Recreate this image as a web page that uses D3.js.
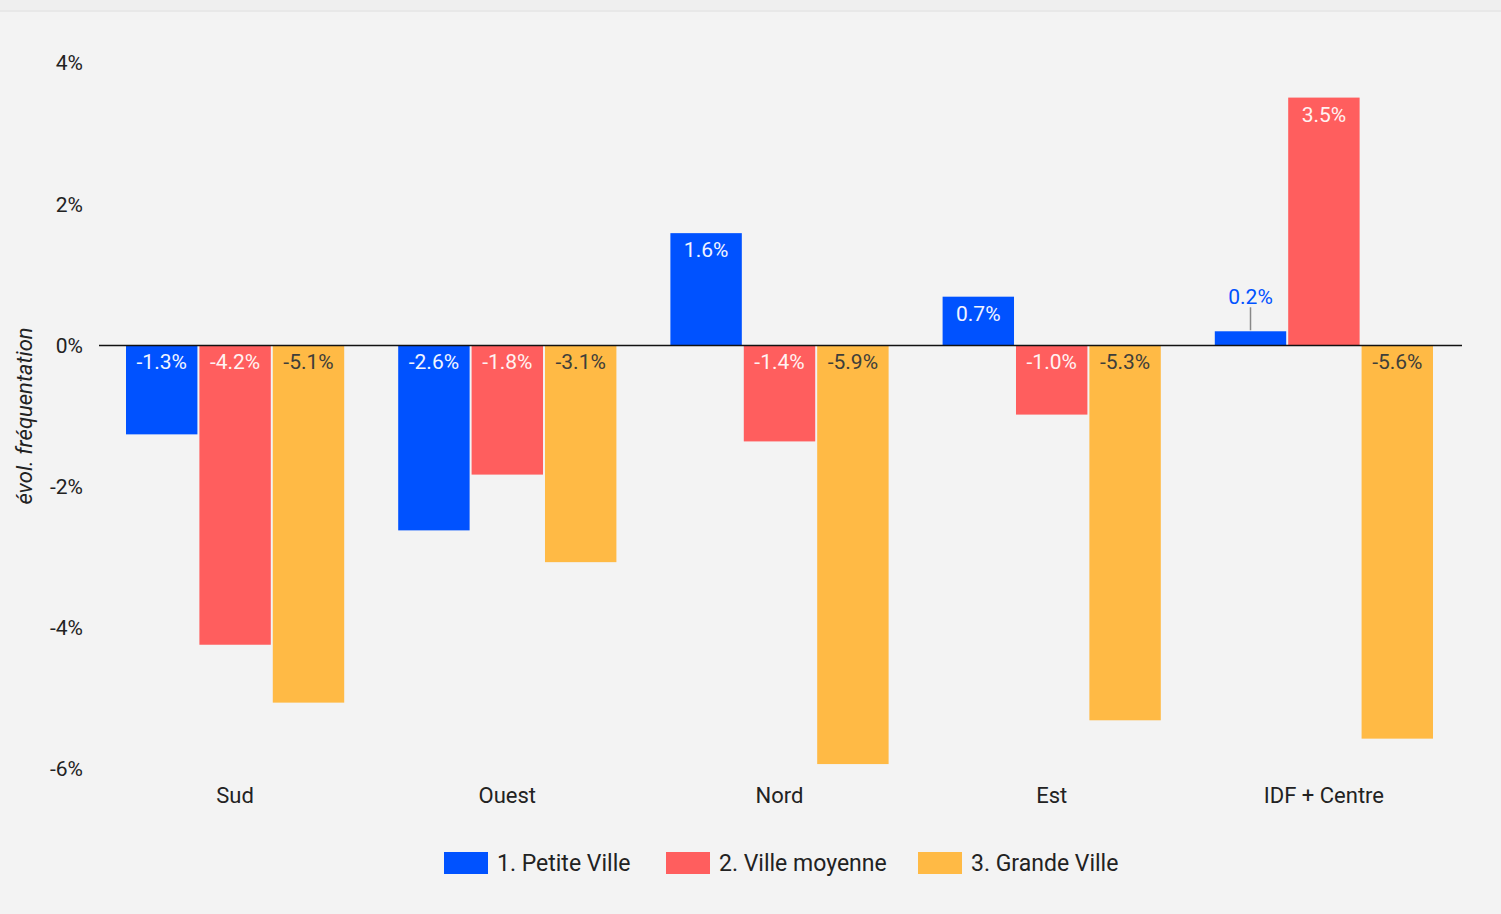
<!DOCTYPE html>
<html>
<head>
<meta charset="utf-8">
<script src="https://cdn.jsdelivr.net/npm/d3@7"></script>
<style>
  html, body { margin: 0; padding: 0; background: #f3f3f3; }
  svg { display: block; font-family: Roboto, sans-serif; }
</style>
</head>
<body>
<div id="chart"></div>
<script>
// data
var regions = ['Sud', 'Ouest', 'Nord', 'Est', 'IDF + Centre'];
var series = ['1. Petite Ville', '2. Ville moyenne', '3. Grande Ville'];
var petiteVille = [-1.26, -2.62, 1.59, 0.69, 0.2];
var villeMoyenne = [-4.24, -1.83, -1.36, -0.98, 3.51];
var grandeVille = [-5.06, -3.07, -5.93, -5.31, -5.57];
var yTicks = [4, 2, 0, -2, -4, -6];

var colors = ['#0052ff', '#ff5e5e', '#ffba45'];
var labelColors = ['#f2f4ff', '#fff2f2', '#3e3e3a'];

var W = 1501, H = 914;
var svg = d3.select('#chart').append('svg')
  .attr('width', W)
  .attr('height', H);

// top shadow strip
svg.append('rect').attr('x', 0).attr('y', 0).attr('width', W).attr('height', 10).attr('fill', '#efefef');
svg.append('rect').attr('x', 0).attr('y', 10).attr('width', W).attr('height', 2).attr('fill', '#e8e8e8');

// scales
var x = d3.scaleBand().domain(regions).range([99, 1460]).padding(0);
var inner = d3.scaleBand().domain(series).range([27, x.bandwidth() - 27]).paddingInner(0.027);
var y = d3.scaleLinear().domain([-6, 4]).range([769, 63]);

// y tick labels
svg.append('g').selectAll('text')
  .data(yTicks)
  .join('text')
    .attr('x', 83)
    .attr('y', d => y(d))
    .attr('dy', '0.35em')
    .attr('text-anchor', 'end')
    .attr('font-size', 21)
    .attr('fill', '#222')
    .text(d => d + '%');

// y axis title
svg.append('text')
  .attr('transform', 'translate(32,' + (y(-6) + y(4)) / 2 + ') rotate(-90)')
  .attr('text-anchor', 'middle')
  .attr('font-size', 22)
  .attr('font-style', 'italic')
  .attr('fill', '#222')
  .text('évol. fréquentation');

// bars
var rows = [];
regions.forEach(function(r, i) {
  [petiteVille, villeMoyenne, grandeVille].forEach(function(vals, s) {
    rows.push({ region: r, series: series[s], s: s, value: vals[i] });
  });
});

svg.append('g').selectAll('rect')
  .data(rows)
  .join('rect')
    .attr('x', d => x(d.region) + inner(d.series))
    .attr('width', inner.bandwidth())
    .attr('y', d => y(Math.max(0, d.value)))
    .attr('height', d => Math.abs(y(d.value) - y(0)))
    .attr('fill', d => colors[d.s]);

// zero line
svg.append('line')
  .attr('x1', 99).attr('x2', 1462)
  .attr('y1', y(0)).attr('y2', y(0))
  .attr('stroke', '#111')
  .attr('stroke-width', 1.5);

// value labels
function fmt(v) { return (Math.round(v * 10) / 10).toFixed(1) + '%'; }

rows.forEach(function(d) {
  var cx = x(d.region) + inner(d.series) + inner.bandwidth() / 2;
  var h = Math.abs(y(d.value) - y(0));
  if (h < 26) {
    // small bar: label above with a leader line
    svg.append('line')
      .attr('x1', cx).attr('x2', cx)
      .attr('y1', y(d.value) - 1).attr('y2', y(d.value) - 24)
      .attr('stroke', '#888').attr('stroke-width', 1.5);
    svg.append('text')
      .attr('x', cx)
      .attr('y', y(d.value) - 27)
      .attr('text-anchor', 'middle')
      .attr('font-size', 21)
      .attr('fill', colors[d.s])
      .text(fmt(d.value));
  } else {
    var ty = d.value >= 0 ? y(d.value) + 24 : y(0) + 24;
    svg.append('text')
      .attr('x', cx)
      .attr('y', ty)
      .attr('text-anchor', 'middle')
      .attr('font-size', 21)
      .attr('fill', labelColors[d.s])
      .text(fmt(d.value));
  }
});

// x labels
svg.append('g').selectAll('text')
  .data(regions)
  .join('text')
    .attr('x', d => x(d) + x.bandwidth() / 2)
    .attr('y', 803)
    .attr('text-anchor', 'middle')
    .attr('font-size', 22)
    .attr('fill', '#222')
    .text(d => d);

// legend
var legendX = [444, 666, 918];
var legend = svg.append('g').selectAll('g')
  .data(series)
  .join('g')
    .attr('transform', (d, i) => 'translate(' + legendX[i] + ',852)');
legend.append('rect')
  .attr('width', 44).attr('height', 22)
  .attr('fill', (d, i) => colors[i]);
legend.append('text')
  .attr('x', 53).attr('y', 19)
  .attr('font-size', 23)
  .attr('fill', '#222')
  .text(d => d);
</script>
</body>
</html>
